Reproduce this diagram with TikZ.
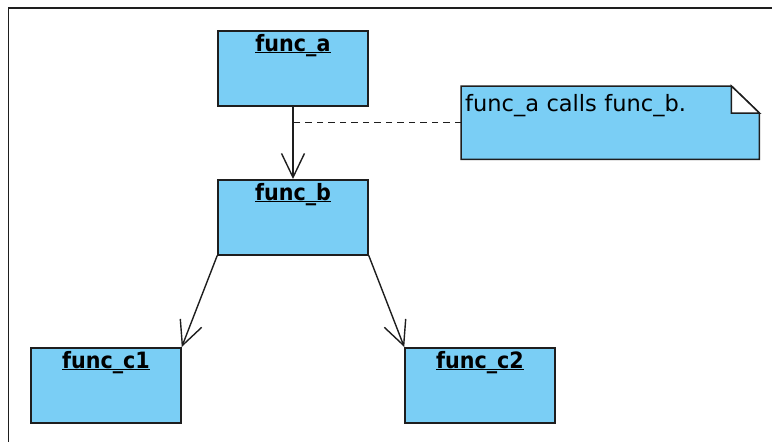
\documentclass[tikz,border=0pt]{standalone}
\usepackage{fontspec}
\setmainfont{DejaVu Sans}
\newfontfamily\lblfont{DejaVu Sans}[FakeStretch=0.92]
\usetikzlibrary{arrows.meta, calc, backgrounds}
\definecolor{cFill}{RGB}{122,206,245}
\definecolor{cLine}{RGB}{30,30,30}
% bold function name with a rule just under the baseline
\newcommand{\funcname}[1]{\setbox0=\hbox{\lblfont\bfseries #1}\rlap{\rule[-2pt]{\wd0}{1.4pt}}\box0}
\tikzset{
	funcbox/.style ={rectangle, draw=cLine, line width=1.5pt, fill=cFill, minimum width=150pt, inner sep=0pt, text height=20.7pt, text depth=54.3pt, anchor=north},
	notebox/.style ={rectangle, inner xsep=4pt, inner ysep=0pt, text width=290pt, align=left, text height=25.7pt, text depth=47.3pt, anchor=north west},
	noteshape/.style={draw=cLine, line width=1.5pt, line join=miter},
	callarrow/.style={-{Straight Barb[length=24pt, width=23pt, line width=1.4pt]}, line width=1.4pt, draw=cLine},
	notelink/.style ={draw=cLine, line width=1.3pt, dash pattern=on 6.5pt off 5pt},
}
\begin{document}
\begin{tikzpicture}[x=1pt, y=-1pt, font=\fontsize{22.5}{26}\selectfont]
	\useasboundingbox (0,0) rectangle (772,442);
	\draw[cLine, line width=1.6pt] (772,8) -- (8.5,8) -- (8.5,442);
	% call tree
	\node[funcbox] (fa) at (293,30) {\funcname{func\_a}};
	\node[funcbox] (fb) at (293,179) {\funcname{func\_b}};
	\node[funcbox] (fc1) at (106,347) {\funcname{func\_c1}};
	\node[funcbox] (fc2) at (480,347) {\funcname{func\_c2}};
	\draw[callarrow] (fa.south) -- (fb.north);
	\draw[callarrow] (fb.south west) -- (fc1.north east);
	\draw[callarrow] (fb.south east) -- (fc2.north west);
	% note with folded corner
	\node[notebox] (nt) at (461,86) {func\_a calls func\_b.};
	\begin{scope}[on background layer]
		\filldraw[noteshape, fill=cFill] (nt.north west) -- ($(nt.north east)+(-28,0)$) -- ($(nt.north east)+(0,27)$) -- (nt.south east) -- (nt.south west) -- cycle;
		\filldraw[noteshape, fill=white] ($(nt.north east)+(-28,0)$) -- ($(nt.north east)+(-28,27)$) -- ($(nt.north east)+(0,27)$) -- cycle;
	\end{scope}
	\coordinate (lk) at (fa.south |- nt.west);
	\draw[notelink] (nt.west) -- (lk);
\end{tikzpicture}
\end{document}
